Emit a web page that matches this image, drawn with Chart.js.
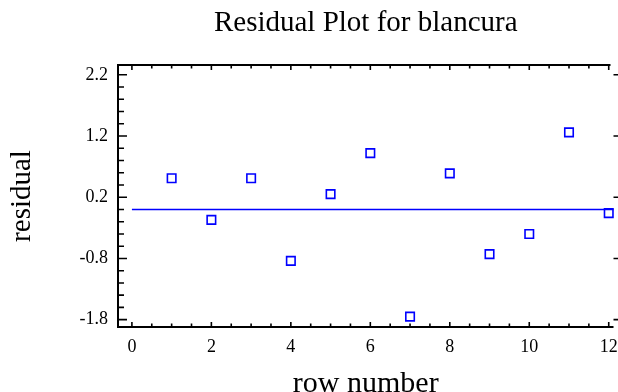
<!DOCTYPE html>
<html>
<head>
<meta charset="utf-8">
<title>Residual Plot for blancura</title>
<script src="https://cdn.jsdelivr.net/npm/chart.js@4.4.1/dist/chart.umd.min.js"></script>
<style>
  html, body { margin: 0; padding: 0; background: #fff; }
  #wrap { width: 618px; height: 392px; }
</style>
</head>
<body>
<div id="wrap"><canvas id="chart" width="618" height="392"></canvas></div>
<script>
// ================= DATA =================
const rowNumbers = [1, 2, 3, 4, 5, 6, 7, 8, 9, 10, 11, 12];
const residuals = [0.51, -0.17, 0.51, -0.84, 0.25, 0.92, -1.75, 0.59, -0.73, -0.40, 1.26, -0.06];

const zeroLineX = [0, 12.12];
const zeroLineY = [0, 0];

const xTicks = [0, 2, 4, 6, 8, 10, 12];
const yTicks = [-1.8, -0.8, 0.2, 1.2, 2.2];

// ================= AXIS RANGE =================
const X_MIN = -0.35, X_MAX = 12.12;
const Y_MIN = -1.92, Y_MAX = 2.36;
const X_MINOR = 0.5;   // minor tick step
const Y_MINOR = 0.2;

const SERIF = "'Liberation Serif', 'Times New Roman', serif";
const BLUE = "#0000ff";

// ================= FRAME + INWARD TICKS =================
const frameTicks = {
  id: "frameTicks",
  afterDraw(chart) {
    const { ctx, chartArea: a, scales: { x, y } } = chart;
    ctx.save();
    ctx.strokeStyle = "#000";
    ctx.lineCap = "butt";

    // axis lines: left, bottom, top (no right line)
    ctx.lineWidth = 2;
    ctx.beginPath();
    ctx.moveTo(a.left, a.top - 1);
    ctx.lineTo(a.left, a.bottom + 1);
    ctx.moveTo(a.left - 1, a.bottom);
    ctx.lineTo(a.right, a.bottom);
    ctx.moveTo(a.left - 1, a.top);
    ctx.lineTo(a.right - 3, a.top);
    ctx.stroke();

    ctx.lineWidth = 1.6;
    ctx.beginPath();

    // y minor + major on the left
    for (let i = 0; ; i++) {
      const v = +(yTicks[0] + i * Y_MINOR).toFixed(4);
      if (v > Y_MAX) break;
      const py = y.getPixelForValue(v);
      const major = yTicks.includes(v);
      ctx.moveTo(a.left, py);
      ctx.lineTo(a.left + (major ? 9 : 6), py);
    }
    // y major on the right, pointing out
    yTicks.forEach(v => {
      const py = y.getPixelForValue(v);
      ctx.moveTo(a.right, py);
      ctx.lineTo(a.right + 5, py);
    });
    // x minor + major, bottom and top
    for (let i = 0; ; i++) {
      const v = +(xTicks[0] + i * X_MINOR).toFixed(4);
      if (v > X_MAX) break;
      const px = x.getPixelForValue(v);
      const len = xTicks.includes(v) ? 5 : 3.5;
      ctx.moveTo(px, a.bottom);
      ctx.lineTo(px, a.bottom - len);
      ctx.moveTo(px, a.top);
      ctx.lineTo(px, a.top + len);
    }
    ctx.stroke();
    ctx.restore();
  }
};

// ================= CHART =================
const ctx = document.getElementById("chart").getContext("2d");

const residualChart = new Chart(ctx, {
  type: "scatter",
  data: {
    datasets: [
      {
        label: "residual",
        data: rowNumbers.map((r, i) => ({ x: r, y: residuals[i] })),
        pointStyle: "rect",
        pointRadius: 6,
        pointHoverRadius: 6,
        borderColor: BLUE,
        backgroundColor: "rgba(255,255,255,0)",
        borderWidth: 1.6,
        clip: false
      },
      {
        label: "zero",
        data: zeroLineX.map((v, i) => ({ x: v, y: zeroLineY[i] })),
        showLine: true,
        borderColor: BLUE,
        borderWidth: 1.5,
        pointRadius: 0,
        clip: false
      }
    ]
  },
  plugins: [frameTicks],
  options: {
    responsive: false,
    animation: false,
    devicePixelRatio: 1,
    // the square markers would otherwise push the frame in
    layout: { autoPadding: false, padding: { left: 0, right: 4.5, top: 0, bottom: 0 } },
    plugins: {
      legend: { display: false },
      tooltip: { enabled: false },
      title: {
        display: true,
        fullSize: false,
        text: "Residual Plot for blancura",
        color: "#000",
        font: { family: SERIF, size: 29, weight: "normal" },
        padding: { top: 5.5, bottom: 24.7 }
      }
    },
    scales: {
      x: {
        type: "linear",
        min: X_MIN,
        max: X_MAX,
        afterBuildTicks: s => { s.ticks = xTicks.map(v => ({ value: v })); },
        afterFit: s => { s.height = 65; s.paddingLeft = 0; s.paddingRight = 0; },
        grid: { display: false, drawTicks: false },
        border: { display: false },
        ticks: {
          color: "#000",
          font: { family: SERIF, size: 18 },
          padding: 9,
          autoSkip: false,
          maxRotation: 0,
          callback: v => String(v)
        },
        title: {
          display: true,
          text: "row number",
          color: "#000",
          font: { family: SERIF, size: 30, lineHeight: 0.5 },
          padding: 0
        }
      },
      y: {
        type: "linear",
        min: Y_MIN,
        max: Y_MAX,
        afterBuildTicks: s => { s.ticks = yTicks.map(v => ({ value: v })); },
        afterFit: s => { s.width = 118; s.paddingTop = 0; s.paddingBottom = 0; },
        grid: { display: false, drawTicks: false },
        border: { display: false },
        ticks: {
          color: "#000",
          font: { family: SERIF, size: 18 },
          padding: 10,
          autoSkip: false,
          callback: v => v.toFixed(1)
        },
        title: {
          display: true,
          text: "residual",
          color: "#000",
          font: { family: SERIF, size: 29 },
          padding: { top: 4.5, bottom: 0 }
        }
      }
    }
  }
});
</script>
</body>
</html>
